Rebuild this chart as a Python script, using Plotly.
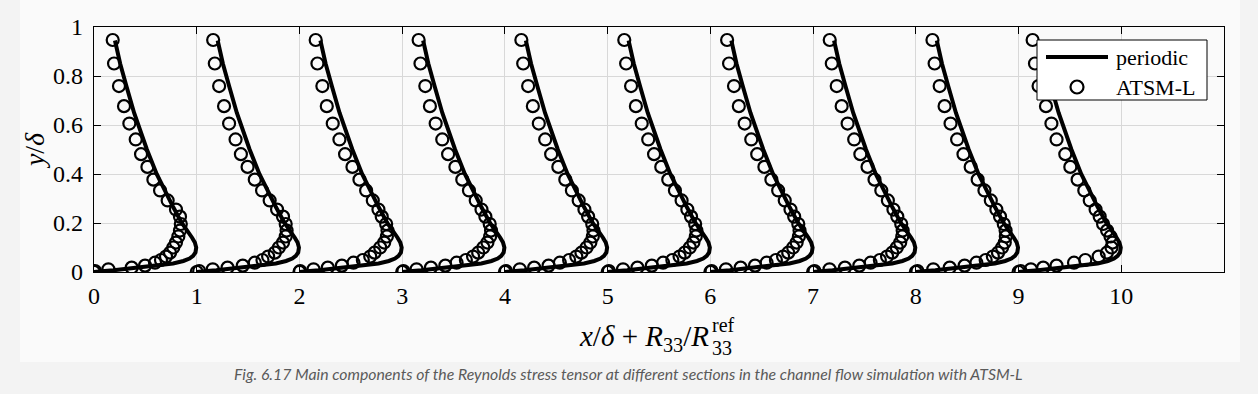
import plotly.graph_objects as go

# ---- data -------------------------------------------------------------
SECTIONS = [0, 1, 2, 3, 4, 5, 6, 7, 8, 9]
X_TICKS = [0, 1, 2, 3, 4, 5, 6, 7, 8, 9, 10]
Y_TICKS = [0, 0.2, 0.4, 0.6, 0.8, 1.0]
Y_TICK_TEXT = ["0", "0.2", "0.4", "0.6", "0.8", "1"]
SERIES_NAMES = ["periodic", "ATSM-L"]

# periodic reference profile (R33/R33ref vs y/delta)
Y_PER = [0.0, 0.002, 0.004, 0.007, 0.011, 0.015, 0.02, 0.027, 0.035, 0.045, 0.055,
         0.066, 0.08, 0.1, 0.12, 0.14, 0.168, 0.2, 0.264, 0.33, 0.4, 0.5, 0.578,
         0.65, 0.755, 0.85, 0.945]
X_PER = [0.0, 0.03, 0.1, 0.19, 0.285, 0.39, 0.5, 0.64, 0.77, 0.87, 0.93,
         0.965, 0.988, 0.995, 0.982, 0.955, 0.905, 0.855, 0.772, 0.69, 0.61, 0.515, 0.448,
         0.39, 0.318, 0.255, 0.204]

# ATSM-L samples
Y_ATSM = [0.0, 0.004, 0.011, 0.018, 0.026, 0.038, 0.049, 0.063, 0.079, 0.1, 0.12,
          0.145, 0.169, 0.196, 0.226, 0.255, 0.292, 0.333, 0.377, 0.429, 0.481,
          0.541, 0.606, 0.677, 0.759, 0.851, 0.947]
ATSM_S0 = [0.0, 0.01, 0.14, 0.367, 0.497, 0.594, 0.652, 0.701, 0.74, 0.772, 0.798, 0.821, 0.837,
           0.845, 0.837, 0.798, 0.717, 0.643, 0.578, 0.52, 0.458, 0.406, 0.344, 0.292, 0.243, 0.195, 0.182]
ATSM_S1 = [0.0, 0.024, 0.156, 0.30, 0.448, 0.565, 0.64, 0.695, 0.76, 0.80, 0.84, 0.866, 0.875,
           0.866, 0.84, 0.782, 0.71, 0.636, 0.565, 0.495, 0.43, 0.378, 0.315, 0.266, 0.218, 0.176, 0.16]
ATSM_S2 = [0.0, 0.007, 0.137, 0.276, 0.413, 0.526, 0.617, 0.689, 0.731, 0.786, 0.825, 0.851, 0.857,
           0.844, 0.801, 0.769, 0.714, 0.649, 0.584, 0.516, 0.444, 0.389, 0.324, 0.266, 0.223, 0.175, 0.158]
ATSM_S3 = [0.0, 0.012, 0.14, 0.28, 0.42, 0.53, 0.62, 0.69, 0.74, 0.79, 0.83, 0.856, 0.865,
           0.852, 0.81, 0.772, 0.716, 0.65, 0.585, 0.518, 0.447, 0.39, 0.326, 0.27, 0.225, 0.178, 0.16]
ATSM_S4 = [0.0, 0.01, 0.145, 0.285, 0.425, 0.535, 0.625, 0.695, 0.745, 0.795, 0.832, 0.856, 0.862,
           0.85, 0.81, 0.774, 0.718, 0.652, 0.588, 0.52, 0.45, 0.392, 0.33, 0.272, 0.226, 0.178, 0.16]
ATSM_S5 = [0.0, 0.012, 0.15, 0.29, 0.43, 0.54, 0.63, 0.7, 0.75, 0.8, 0.835, 0.858, 0.864,
           0.852, 0.812, 0.776, 0.72, 0.655, 0.59, 0.522, 0.452, 0.395, 0.332, 0.275, 0.228, 0.18, 0.162]
ATSM_S6 = [0.0, 0.012, 0.152, 0.295, 0.435, 0.548, 0.638, 0.708, 0.758, 0.806, 0.84, 0.862, 0.868,
           0.856, 0.816, 0.78, 0.724, 0.66, 0.594, 0.526, 0.456, 0.398, 0.334, 0.277, 0.23, 0.182, 0.163]
ATSM_S7 = [0.0, 0.014, 0.16, 0.31, 0.45, 0.56, 0.65, 0.72, 0.77, 0.815, 0.848, 0.868, 0.872,
           0.858, 0.82, 0.782, 0.728, 0.664, 0.598, 0.53, 0.46, 0.4, 0.336, 0.278, 0.23, 0.182, 0.162]
ATSM_S8 = [0.0, 0.016, 0.17, 0.33, 0.475, 0.59, 0.68, 0.75, 0.8, 0.84, 0.866, 0.876, 0.874,
           0.856, 0.82, 0.784, 0.73, 0.668, 0.602, 0.534, 0.464, 0.402, 0.338, 0.28, 0.232, 0.183, 0.162]
ATSM_S9 = [0.0, 0.02, 0.12, 0.24, 0.37, 0.54, 0.65, 0.78, 0.86, 0.905, 0.915, 0.895, 0.862,
           0.823, 0.79, 0.75, 0.693, 0.64, 0.575, 0.504, 0.455, 0.37, 0.32, 0.267, 0.195, 0.16, 0.137]
ATSM_ALL = [ATSM_S0, ATSM_S1, ATSM_S2, ATSM_S3, ATSM_S4,
            ATSM_S5, ATSM_S6, ATSM_S7, ATSM_S8, ATSM_S9]

# ---- build traces -----------------------------------------------------
per_x, per_y, at_x, at_y = [], [], [], []
for s, prof in zip(SECTIONS, ATSM_ALL):
    per_x += [s + v for v in X_PER] + [None]
    per_y += Y_PER + [None]
    at_x += [s + v for v in prof]
    at_y += Y_ATSM

SERIF = "Liberation Serif"
LINE_W = 4
fig = go.Figure()
fig.add_trace(go.Scatter(x=per_x, y=per_y, mode="lines", name=SERIES_NAMES[0],
                         line=dict(color="black", width=LINE_W), connectgaps=False))
fig.add_trace(go.Scatter(x=at_x, y=at_y, mode="markers", name=SERIES_NAMES[1],
                         marker=dict(symbol="circle-open", size=12, color="black",
                                     line=dict(color="black", width=2.2))))

L, R, T, B = 94, 34, 27, 122
W, H = 1258, 394
pw, ph = W - L - R, H - T - B


def px(xp):
    return (xp - L) / pw


def py(yp):
    return (H - B - yp) / ph


axis_common = dict(showline=True, linecolor="black", linewidth=1.3, mirror="ticks",
                   ticks="inside", ticklen=7, tickwidth=1, tickcolor="black",
                   showgrid=True, gridcolor="#d8d8d8", gridwidth=1, zeroline=False,
                   tickfont=dict(family=SERIF, size=24, color="black"))

# hand-drawn legend box (matches the reference's long line sample)
legend_shapes = [
    dict(type="rect", xref="paper", yref="paper", x0=px(1037), x1=px(1207),
         y0=py(100), y1=py(40), fillcolor="white", line=dict(color="black", width=1)),
    dict(type="line", xref="paper", yref="paper", x0=px(1046), x1=px(1108),
         y0=py(57), y1=py(57), line=dict(color="black", width=LINE_W)),
    dict(type="circle", xref="paper", yref="paper", x0=px(1070.5), x1=px(1083.5),
         y0=py(93.5), y1=py(80.5), line=dict(color="black", width=2.2)),
]
legend_texts = [
    dict(text=SERIES_NAMES[0], xref="paper", yref="paper", x=px(1114), y=py(57),
         xanchor="left", yanchor="middle", showarrow=False,
         font=dict(family=SERIF, size=22, color="black")),
    dict(text=SERIES_NAMES[1], xref="paper", yref="paper", x=px(1114), y=py(87),
         xanchor="left", yanchor="middle", showarrow=False,
         font=dict(family=SERIF, size=22, color="black")),
]

# stacked sub/superscript of the last R in the x-axis title
stack_x = 710
title_stack = [
    dict(text="ref", xref="paper", yref="paper", x=px(stack_x), y=py(325),
         xanchor="left", yanchor="middle", showarrow=False,
         font=dict(family=SERIF, size=20, color="black")),
    dict(text="33", xref="paper", yref="paper", x=px(stack_x), y=py(348),
         xanchor="left", yanchor="middle", showarrow=False,
         font=dict(family=SERIF, size=20, color="black")),
]

fig.update_layout(
    width=W, height=H,
    margin=dict(l=L, r=R, t=T, b=B, autoexpand=False),
    paper_bgcolor="#f3f3f3", plot_bgcolor="#fafafa",
    showlegend=False,
    xaxis=dict(range=[0, 11], tickvals=X_TICKS, ticklabelstandoff=2,
               title=dict(text="<i>x</i>/<i>δ</i> + <i>R</i><sub>33</sub>/<i>R</i>"
                               "&nbsp;&nbsp;&nbsp;&nbsp;",
                          font=dict(family=SERIF, size=29, color="black"), standoff=17),
               **axis_common),
    yaxis=dict(range=[0, 1], tickvals=Y_TICKS, ticktext=Y_TICK_TEXT, ticklabelstandoff=5,
               title=dict(text="<i>y</i>/<i>δ</i>",
                          font=dict(family=SERIF, size=28, color="black"), standoff=0),
               **axis_common),
    shapes=[dict(type="rect", xref="paper", yref="paper", layer="below",
                 x0=px(20), x1=px(1240), y0=py(362), y1=py(0),
                 fillcolor="#fafafa", line=dict(width=0))] + legend_shapes,
    annotations=title_stack + [
        dict(text="Fig. 6.17 Main components of the Reynolds stress tensor at different sections "
                  "in the channel flow simulation with ATSM-L",
             xref="paper", yref="paper", x=px(628), y=py(373),
             xanchor="center", yanchor="middle", showarrow=False,
             font=dict(family="Lato", size=15.8, color="#5a5a5a", style="italic")),
    ] + legend_texts,
)

fig.write_html("out.html", config={"displayModeBar": False},
               post_script="document.body.style.margin='0px';")
